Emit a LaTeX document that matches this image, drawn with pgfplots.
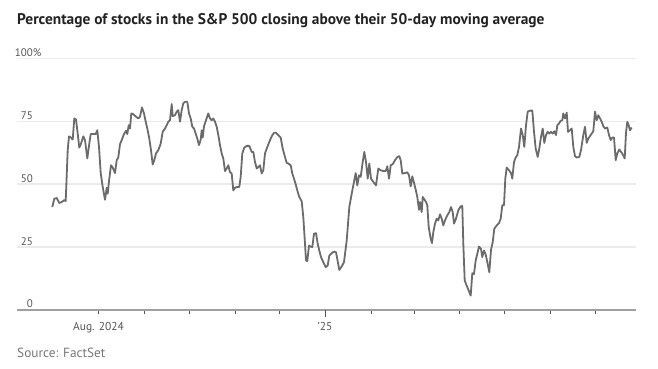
\documentclass[border=0pt]{standalone}
\usepackage{fontspec}
\setmainfont{PT Sans}
\usepackage{pgfplots}
\usepackage{pgfplotstable}
\pgfplotsset{compat=1.18}
\definecolor{linegray}{HTML}{6B6B6B}
\definecolor{gridcol}{HTML}{EBEBEB}
\definecolor{axiscol}{HTML}{A0A0A0}
\definecolor{tickcol}{HTML}{555555}
\definecolor{labcol}{HTML}{555555}
\definecolor{titlecol}{HTML}{222222}
\definecolor{srccol}{HTML}{777777}
% x = horizontal position of each daily reading (Aug 1 2024 = 98.5, Jan 1 2025 = 325, Jul 1 2025 = 595.5)
\pgfplotstableread{
x y
52.3 40.9
54.3 44.2
56.7 44.5
59.3 42.5
61.7 42.9
64.0 43.6
65.7 43.3
67.7 63.5
69.0 69.0
71.0 68.5
72.7 67.7
74.3 76.1
76.0 75.7
77.7 70.1
79.3 64.5
81.0 66.1
83.3 69.0
85.0 67.5
87.3 60.2
89.3 66.1
90.7 69.9
93.3 69.9
95.7 69.9
97.3 71.4
99.0 64.8
100.7 54.4
102.7 48.9
105.0 43.8
106.7 48.6
107.7 46.2
109.3 52.2
111.0 57.5
112.7 56.6
115.0 54.4
116.7 59.5
118.3 60.6
120.0 65.9
121.7 67.5
124.0 69.9
126.0 71.2
127.3 69.9
128.7 73.4
130.0 72.1
131.3 78.1
133.3 77.8
136.0 76.8
138.3 76.1
140.0 76.8
142.0 80.5
144.0 78.1
145.7 74.8
147.3 72.1
149.3 68.1
151.0 63.5
152.7 57.8
154.3 59.5
156.0 62.2
158.3 63.5
160.7 66.1
162.7 70.8
165.0 72.1
166.7 73.4
168.3 74.8
170.0 75.4
171.7 81.8
172.7 77.0
175.0 77.4
176.7 78.8
178.3 79.4
180.0 74.8
181.7 79.4
183.3 82.1
185.0 82.7
187.3 82.7
189.0 78.1
190.7 76.1
192.3 72.8
194.0 72.1
195.7 70.1
197.3 68.1
199.0 65.5
200.7 67.7
201.7 71.4
202.7 68.5
204.0 73.0
206.0 75.4
208.3 78.1
210.0 76.1
211.7 75.4
213.3 76.1
215.0 74.8
216.7 72.8
218.3 69.5
220.0 65.5
221.7 62.2
223.3 60.2
225.0 55.2
226.7 56.2
228.3 57.5
230.0 54.8
231.7 54.2
233.3 47.5
235.0 48.6
237.3 48.9
239.3 48.9
240.7 52.9
242.3 62.2
244.3 64.5
246.7 65.2
249.3 65.2
251.7 62.8
253.3 62.8
255.0 58.8
256.7 56.2
258.3 56.8
260.0 57.5
261.7 54.2
263.3 55.5
265.0 62.2
266.7 64.1
269.3 66.8
271.7 69.0
274.0 70.4
276.0 70.4
278.3 69.5
280.7 68.5
282.7 64.1
285.0 60.8
286.7 58.4
288.3 58.2
290.7 57.5
292.3 54.2
294.0 52.2
296.0 49.5
297.7 46.9
299.3 44.9
301.7 43.2
303.3 36.9
305.0 26.3
306.0 19.7
307.3 19.4
309.0 25.6
310.7 25.2
312.3 25.0
314.0 30.3
316.0 30.5
317.7 26.3
319.3 23.6
321.0 21.0
323.3 19.0
325.7 17.0
327.7 17.7
329.3 21.6
331.7 22.6
334.0 23.2
336.0 23.0
339.3 15.9
341.7 17.3
344.0 19.0
346.7 27.6
349.3 40.9
351.7 46.2
353.3 49.5
355.7 54.4
357.3 49.5
359.0 53.5
360.7 52.9
362.7 58.8
364.3 62.8
366.0 58.8
367.7 52.2
369.3 58.2
371.0 52.2
373.3 50.9
376.0 49.5
378.3 56.2
380.7 55.5
383.3 55.2
385.7 55.2
387.3 57.1
389.0 52.2
390.7 57.5
392.7 57.9
395.0 59.5
397.3 60.8
399.3 61.1
400.7 59.5
402.3 54.2
405.0 54.4
407.3 54.7
409.0 53.5
410.7 49.1
412.3 53.1
414.0 50.5
415.7 47.8
417.3 44.9
419.0 39.8
420.0 42.9
421.7 38.9
422.7 44.9
424.3 44.0
426.0 42.9
427.3 41.6
428.7 32.9
430.7 28.3
432.0 26.6
433.3 30.9
435.0 34.3
436.7 36.3
438.3 35.6
440.0 38.0
441.7 36.3
443.3 33.6
445.0 35.6
447.3 37.6
449.3 38.9
451.0 40.9
452.7 38.9
454.0 34.3
456.0 36.3
458.3 39.6
460.7 41.2
462.3 41.3
463.3 26.3
464.7 11.7
466.7 9.7
469.0 7.4
470.7 5.7
472.3 14.6
474.0 14.3
475.7 19.7
477.3 22.3
479.0 25.2
481.0 24.3
482.3 21.0
484.0 23.6
485.7 22.0
487.7 18.3
489.3 15.0
491.0 23.9
492.7 27.0
494.3 32.3
496.7 33.6
499.0 34.5
500.7 36.3
502.3 41.6
504.0 41.6
505.3 52.2
506.7 56.6
509.0 55.5
511.0 54.4
512.3 52.2
514.0 58.8
515.7 60.6
517.3 61.5
519.0 64.8
521.0 72.1
522.7 69.5
524.3 64.8
526.0 73.4
527.7 78.8
530.0 79.2
532.3 79.2
534.0 70.8
535.7 64.1
537.7 60.8
539.3 64.1
541.0 68.8
542.7 72.1
544.3 66.4
546.0 69.5
547.7 70.8
549.3 70.1
551.0 70.8
552.7 70.1
554.3 71.0
556.0 69.5
557.3 73.4
559.0 74.1
560.7 75.2
562.3 75.4
563.3 78.1
565.0 76.1
566.7 78.4
568.0 70.8
570.0 71.4
571.7 72.1
573.3 64.8
575.0 61.1
576.7 60.6
579.3 60.8
581.0 63.5
583.3 69.5
585.0 72.8
586.7 66.4
588.3 68.1
590.0 69.1
591.7 70.1
593.3 71.0
595.0 78.8
596.7 75.4
598.3 77.4
600.0 76.1
601.7 74.8
603.3 73.0
605.0 72.1
607.3 72.5
609.0 69.5
610.7 67.5
612.3 68.5
614.0 68.5
615.7 59.5
617.3 62.2
619.3 63.8
621.0 62.8
622.7 61.9
624.7 60.2
626.0 70.4
627.3 74.8
628.7 73.4
630.0 71.4
631.7 72.5
}\datatable
\begin{document}
\begin{tikzpicture}[x=1pt,y=1pt]
\path[use as bounding box] (0,0) rectangle (658,369);
\node[anchor=base west, inner sep=0pt, font=\bfseries\fontsize{15.4}{17}\selectfont, text=titlecol] at (17,344) {Percentage of stocks in the S\&P 500 closing above their 50-day moving average};
\node[anchor=base west, inner sep=0pt, font=\fontsize{13.3}{15}\selectfont, text=srccol] at (17,11) {Source: FactSet};
\begin{axis}[
  at={(17pt,59pt)}, anchor=south west,
  scale only axis, width=619pt, height=251.7pt,
  xmin=17, xmax=636, ymin=0, ymax=100,
  axis x line*=bottom, axis y line*=left,
  y axis line style={draw=none},
  x axis line style={draw=axiscol, line width=1.3pt, -},
  /pgf/number format/assume math mode=true,
  ytick={0,25,50,75,100},
  yticklabels={0,25,50,75,100\rlap{\%}},
  ymajorgrids,
  major grid style={draw=gridcol, line width=1.3pt},
  ytick style={draw=none},
  yticklabel style={anchor=base east, inner sep=0pt, xshift=20pt, yshift=2pt, text=labcol, font=\fontsize{11}{12}\selectfont},
  xtick={98.5,144.5,189.5,235,279.5,325,371,414,459.5,504,550,595.5},
  xticklabels={Aug. 2024,,,,,'25,,,,,,},
  tick align=outside,
  major tick length=4pt,
  xtick style={draw=tickcol, line width=0.9pt},
  xticklabel style={anchor=base, inner sep=0pt, yshift=-17pt, text=labcol, font=\fontsize{11.5}{12}\selectfont},
  extra x ticks={325},
  extra x tick labels={},
  extra x tick style={major tick length=7pt},
  clip=false,
]
\addplot[draw=linegray, line width=1.8pt, line join=round, no markers] table[x=x,y=y] {\datatable};
\end{axis}
\end{tikzpicture}
\end{document}
